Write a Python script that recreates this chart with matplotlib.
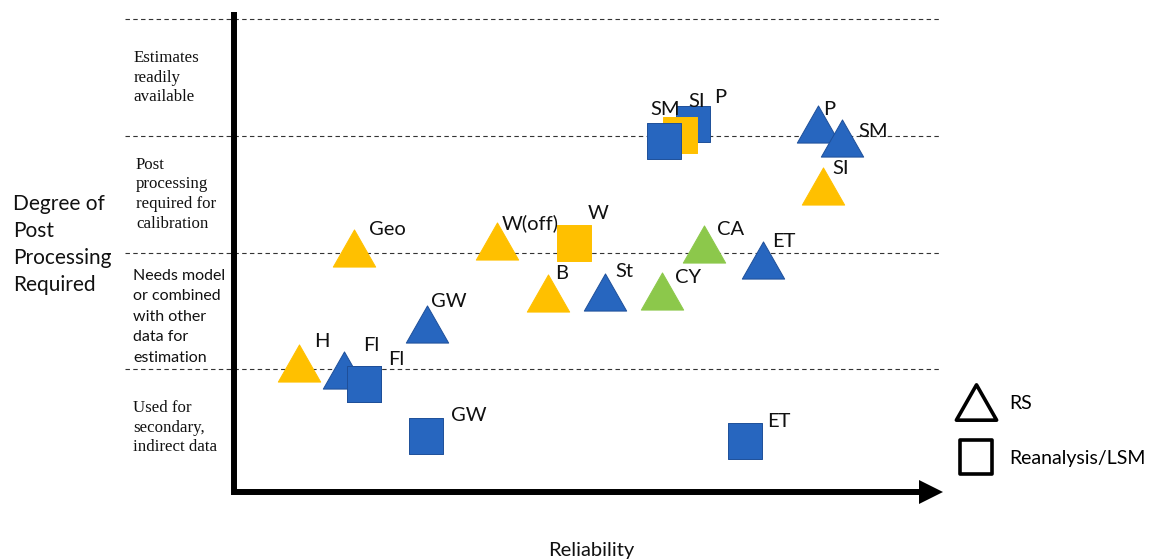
import matplotlib
matplotlib.use("Agg")
import matplotlib.pyplot as plt
from matplotlib.path import Path
from matplotlib.lines import Line2D

plt.rcParams["font.family"] = ["Lato", "DejaVu Sans"]

# reliability (x) and degree of post processing (y, band units: dashed lines at 1..4)
tri_labels = ["Geo", "W(off)", "CA", "B", "St", "CY", "GW", "H", "Fl", "ET", "P", "SM", "SI"]
tri_x = [17.2, 37.5, 67.2, 44.9, 53.0, 61.1, 27.6, 9.3, 15.7, 75.6, 83.4, 86.9, 84.1]
tri_y = [2.04, 2.10, 2.07, 1.65, 1.66, 1.67, 1.39, 1.05, 0.99, 1.94, 3.10, 2.98, 2.57]
tri_cls = ["y", "y", "g", "y", "b", "g", "b", "y", "b", "b", "b", "b", "y"]

sq_labels = ["W", "Fl", "GW", "ET", "P", "SI", "SM"]
sq_x = [48.5, 18.5, 27.4, 73.0, 65.6, 63.7, 61.4]
sq_y = [2.08, 0.87, 0.43, 0.39, 3.10, 3.01, 2.96]
sq_cls = ["y", "b", "b", "b", "b", "y", "b"]

band_edges = [1, 2, 3, 4]
band_text = [
    "Used for\nsecondary,\nindirect data",
    "Needs model\nor combined\nwith other\ndata for\nestimation",
    "Post\nprocessing\nrequired for\ncalibration",
    "Estimates\nreadily\navailable",
]

# label offsets in pixels from the marker centre
tri_off = [(15, -18), (5, -18), (13, -15), (7, -20), (10, -21), (13, -14), (4, -22),
           (15, -22), (19, -25), (9, -18), (5, -15), (16, -7), (10, -18)]
sq_off = [(14, -30), (25, -25), (25, -20), (22, -19), (21, -27), (8, -33), (-13, -31)]

colors = {"b": "#2766BF", "y": "#FFC000", "g": "#8CC84B"}
edges = {"b": "#1E4F99", "y": "#FFC000", "g": "#8CC84B"}

tri = Path([(0, 1), (-1.14, -1), (1.14, -1), (0, 1)], closed=True)
sq = Path([(-0.46, -0.5), (0.46, -0.5), (0.46, 0.5), (-0.46, 0.5), (-0.46, -0.5)], closed=True)

fig = plt.figure(figsize=(11.51, 5.6), dpi=100)
ax = fig.add_axes([0, 0, 1, 1])
ax.set_xlim(-33.43, 131.0)
ax.set_ylim(-0.634, 4.165)
ax.axis("off")

for e in band_edges:
    ax.plot([-15.6, 100.9], [e, e], color="#333333", lw=0.8, ls=(0, (4, 3)), zorder=1)

for i, t in enumerate(band_text):
    fam = ["Lato"] if i == 1 else ["Liberation Serif"]
    size = 11.5 if i == 1 else 12.2
    xx = -14.0 if i == 2 else -14.4
    yy = i + 0.45 if i == 1 else i + 0.5
    ax.text(xx, yy, t, ha="left", va="center", fontsize=size, family=fam,
            linespacing=1.58 if i == 1 else 1.3, color="#111111")

ax.text(-31.6, 2.07, "Degree of\nPost\nProcessing\nRequired", ha="left", va="center",
        fontsize=15, linespacing=1.42, color="#111111")
ax.text(51, -0.55, "Reliability", ha="center", va="center", fontsize=14.5, color="#111111")

# axes with arrow
ax.plot([0, 0, 98.0], [4.06, -0.047, -0.047], color="black", lw=4.3,
        solid_joinstyle="miter", solid_capstyle="butt", zorder=2)
ax.plot([99.6], [-0.047], marker=">", ms=17, color="black", mew=0, zorder=2)

z = 3
for x, y, c, lab, off in zip(sq_x, sq_y, sq_cls, sq_labels, sq_off):
    ax.plot([x], [y], marker=sq, ms=26, mfc=colors[c], mec=edges[c], mew=0.7, ls="none", zorder=z)
    ax.annotate(lab, (x, y), xytext=(off[0], -off[1]), textcoords="offset pixels",
                ha="left", va="center", fontsize=14.5, color="#111111", zorder=10)
    z += 0.1
for x, y, c, lab, off in zip(tri_x, tri_y, tri_cls, tri_labels, tri_off):
    ax.plot([x], [y], marker=tri, ms=30.5, mfc=colors[c], mec=edges[c], mew=0.7, ls="none", zorder=z)
    ax.annotate(lab, (x, y), xytext=(off[0], -off[1]), textcoords="offset pixels",
                ha="left", va="center", fontsize=14.5, color="#111111", zorder=10)
    z += 0.1

# Fl square sits on top of Fl triangle
ax.plot([sq_x[1]], [sq_y[1]], marker=sq, ms=26, mfc=colors["b"], mec=edges["b"], mew=0.7,
        ls="none", zorder=z + 1)

handles = [
    Line2D([], [], marker=tri, ms=29, mfc="white", mec="black", mew=2.6, ls="none"),
    Line2D([], [], marker=sq, ms=25, mfc="white", mec="black", mew=2.6, ls="none"),
]
ax.legend(handles, ["RS", "Reanalysis/LSM"], loc="center left",
          bbox_to_anchor=(0.8294, 1 - 431 / 560), frameon=False, fontsize=14,
          handlelength=2.2, handletextpad=0.6, labelspacing=1.95,
          borderpad=0, borderaxespad=0)

fig.savefig("out.png", dpi=100)
